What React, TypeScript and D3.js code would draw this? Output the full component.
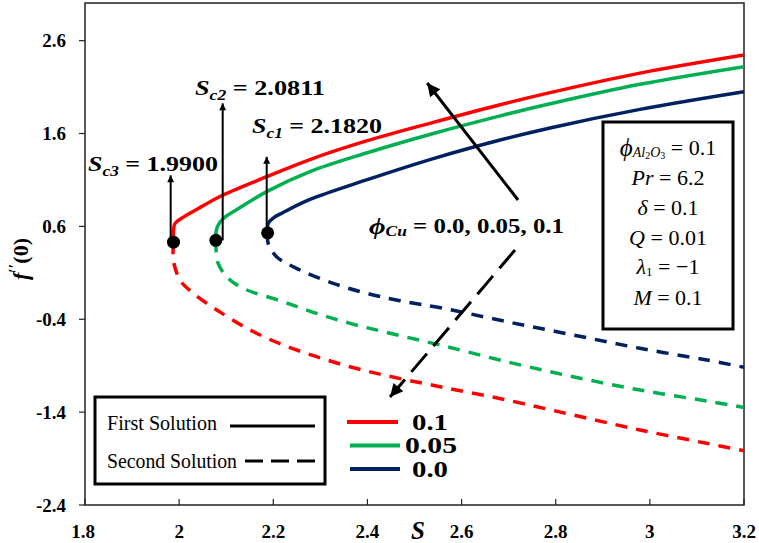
import React from "react";
import * as d3 from "d3";

// ---- data ----
const X_TICKS = [1.8, 2, 2.2, 2.4, 2.6, 2.8, 3, 3.2];
const X_TICK_LABELS = ["1.8", "2", "2.2", "2.4", "2.6", "2.8", "3", "3.2"];
const Y_TICKS = [2.6, 1.6, 0.6, -0.4, -1.4, -2.4];
const Y_TICK_LABELS = ["2.6", "1.6", "0.6", "-0.4", "-1.4", "-2.4"];

// phi_Cu = 0.1 (red)
const S_RED_FIRST = [1.988, 1.988, 1.991, 2.006, 2.04, 2.092, 2.186, 2.278, 2.398, 2.54, 2.682, 2.788, 2.979, 3.2];
const F_RED_FIRST = [0.43, 0.56, 0.63, 0.69, 0.79, 0.935, 1.135, 1.32, 1.52, 1.72, 1.91, 2.04, 2.25, 2.445];
const S_RED_SECOND = [1.988, 1.987, 1.989, 2.002, 2.03, 2.08, 2.151, 2.221, 2.292, 2.363, 2.434, 2.554, 2.696, 2.837, 2.979, 3.121, 3.2];
const F_RED_SECOND = [0.43, 0.3, 0.2, 0.02, -0.12, -0.3, -0.516, -0.677, -0.803, -0.911, -1.0, -1.126, -1.269, -1.431, -1.592, -1.736, -1.815];

// phi_Cu = 0.05 (green)
const S_GREEN_FIRST = [2.078, 2.079, 2.086, 2.1, 2.122, 2.188, 2.278, 2.398, 2.54, 2.682, 2.788, 2.979, 3.2];
const F_GREEN_FIRST = [0.45, 0.56, 0.64, 0.71, 0.78, 0.98, 1.19, 1.39, 1.6, 1.79, 1.92, 2.13, 2.32];
const S_GREEN_SECOND = [2.078, 2.079, 2.083, 2.101, 2.136, 2.221, 2.292, 2.363, 2.434, 2.554, 2.696, 2.837, 2.979, 3.121, 3.2];
const F_GREEN_SECOND = [0.45, 0.3, 0.2, 0.058, -0.067, -0.211, -0.336, -0.444, -0.534, -0.677, -0.857, -1.019, -1.162, -1.28, -1.35];

// phi_Cu = 0.0 (blue)
const S_BLUE_FIRST = [2.188, 2.189, 2.2, 2.221, 2.278, 2.398, 2.54, 2.682, 2.788, 2.979, 3.2];
const F_BLUE_FIRST = [0.53, 0.63, 0.69, 0.75, 0.89, 1.1, 1.33, 1.53, 1.66, 1.86, 2.05];
const S_BLUE_SECOND = [2.188, 2.189, 2.207, 2.257, 2.327, 2.398, 2.469, 2.561, 2.696, 2.837, 2.979, 3.121, 3.2];
const F_BLUE_SECOND = [0.53, 0.42, 0.274, 0.13, -0.013, -0.12, -0.2, -0.282, -0.426, -0.569, -0.713, -0.839, -0.917];

// critical points
const CRIT_S = [1.988, 2.078, 2.188];
const CRIT_F = [0.43, 0.45, 0.53];
const CRIT_NAMES = ["c3", "c2", "c1"];
const CRIT_VALUES = ["1.9900", "2.0811", "2.1820"];
const CRIT_ARROW_S = [1.982, 2.0925, 2.186];
const CRIT_ARROW_TOP = [1.15, 1.925, 1.35];

const LEGEND_VALUES = ["0.1", "0.05", "0.0"];
const COLORS = ["#ff0000", "#00b050", "#002060"];

const W = 759;
const H = 543;
const M = { left: 85, right: 744, top: 3, bottom: 505 };
const SERIF = "'Liberation Serif', 'Times New Roman', serif";

export default function App() {
  const x = d3.scaleLinear().domain([1.8, 3.2]).range([M.left, M.right]);
  const y = d3.scaleLinear().domain([-2.4, 3.0]).range([M.bottom, M.top + 0.5]);

  const line = d3
    .line<[number, number]>()
    .x((d) => x(d[0]))
    .y((d) => y(d[1]))
    .curve(d3.curveCatmullRom.alpha(0.5));

  const zip = (a: number[], b: number[]) => a.map((v, i) => [v, b[i]] as [number, number]);

  const series = [
    { c: COLORS[0], first: zip(S_RED_FIRST, F_RED_FIRST), second: zip(S_RED_SECOND, F_RED_SECOND) },
    { c: COLORS[1], first: zip(S_GREEN_FIRST, F_GREEN_FIRST), second: zip(S_GREEN_SECOND, F_GREEN_SECOND) },
    { c: COLORS[2], first: zip(S_BLUE_FIRST, F_BLUE_FIRST), second: zip(S_BLUE_SECOND, F_BLUE_SECOND) },
  ];

  // label anchor positions (data units)
  const critLabelPos = [
    { s: 1.8 + (153 - 85) / 470.7, f: 1.2 },
    { s: 1.8 + (260 - 85) / 470.7, f: 2.02 },
    { s: 1.8 + (317 - 85) / 470.7, f: 1.61 },
  ];

  return (
    <svg width={W} height={H} style={{ position: "absolute", left: 0, top: 0, background: "#fff" }} fontFamily={SERIF}>
      <defs>
        <clipPath id="plotclip">
          <rect x={M.left} y={M.top} width={M.right - M.left} height={M.bottom - M.top} />
        </clipPath>
        <marker id="ahSmall" viewBox="0 0 10 10" refX={10} refY={5} markerWidth={9} markerHeight={7} markerUnits="userSpaceOnUse" orient="auto">
          <path d="M0,0 L10,5 L0,10 Z" fill="#000" />
        </marker>
        <marker id="ahBig" viewBox="0 0 10 10" refX={10} refY={5} markerWidth={16} markerHeight={13} markerUnits="userSpaceOnUse" orient="auto">
          <path d="M0,0 L10,5 L0,10 Z" fill="#000" />
        </marker>
      </defs>
      <rect x={0} y={0} width={W} height={H} fill="#fff" />

      {/* frame */}
      <rect x={M.left} y={M.top} width={M.right - M.left} height={M.bottom - M.top} fill="none" stroke="#222" strokeWidth={1.5} />

      {/* ticks */}
      {Y_TICKS.map((t, i) => (
        <g key={"yt" + i}>
          <line x1={M.left - 6} x2={M.left} y1={y(t)} y2={y(t)} stroke="#222" strokeWidth={1.2} />
          <text x={66} y={y(t)} textAnchor="end" dominantBaseline="central" fontWeight="bold" fontSize={19}>
            {Y_TICK_LABELS[i]}
          </text>
        </g>
      ))}
      {X_TICKS.map((t, i) => (
        <g key={"xt" + i}>
          <line x1={x(t)} x2={x(t)} y1={M.bottom} y2={M.bottom - 6} stroke="#222" strokeWidth={1.2} />
          <text x={x(t) - (i === 0 ? 2 : 0)} y={531} textAnchor="middle" dominantBaseline="central" fontWeight="bold" fontSize={19}>
            {X_TICK_LABELS[i]}
          </text>
        </g>
      ))}

      {/* axis titles */}
      <text transform="translate(20,259) rotate(-90)" textAnchor="middle" dominantBaseline="central" fontWeight="bold" fontSize={22}>
        <tspan fontStyle="italic">f</tspan>
        <tspan fontSize={16} dy={-6}>′′</tspan>
        <tspan dy={6}>(0)</tspan>
      </text>
      <text x={418} y={530} textAnchor="middle" dominantBaseline="central" fontWeight="bold" fontStyle="italic" fontSize={25}>
        S
      </text>

      {/* curves */}
      <g clipPath="url(#plotclip)">
        {series.map((s, i) => (
          <g key={"s" + i}>
            <path d={line(s.second) || ""} fill="none" stroke={s.c} strokeWidth={3.5} strokeDasharray="12,9" />
            <path d={line(s.first) || ""} fill="none" stroke={s.c} strokeWidth={3.5} />
          </g>
        ))}
      </g>

      {/* critical point arrows, dots and labels */}
      {CRIT_S.map((s, i) => (
        <g key={"cp" + i}>
          <line
            x1={x(CRIT_ARROW_S[i])}
            x2={x(CRIT_ARROW_S[i])}
            y1={y(CRIT_F[i])}
            y2={y(CRIT_ARROW_TOP[i])}
            stroke="#000"
            strokeWidth={2}
            markerEnd="url(#ahSmall)"
          />
          <circle cx={x(s)} cy={y(CRIT_F[i])} r={6.5} fill="#000" />
          <text
            x={x(critLabelPos[i].s)}
            y={y(critLabelPos[i].f)}
            textAnchor="middle"
            fontWeight="bold"
            fontSize={21}
            textLength={130}
            lengthAdjust="spacingAndGlyphs"
          >
            <tspan fontStyle="italic">S</tspan>
            <tspan fontStyle="italic" fontSize={14} dy={5}>{CRIT_NAMES[i]}</tspan>
            <tspan dy={-5}>{" = " + CRIT_VALUES[i]}</tspan>
          </text>
        </g>
      ))}

      {/* phi_Cu arrows */}
      <line x1={x(2.72)} y1={y(0.884)} x2={x(2.527)} y2={y(2.144)} stroke="#000" strokeWidth={3} markerEnd="url(#ahBig)" />
      <line x1={x(2.7135)} y1={y(0.346)} x2={x(2.448)} y2={y(-1.237)} stroke="#000" strokeWidth={3} strokeDasharray="24,10" markerEnd="url(#ahBig)" />
      <text
        x={x(2.6105)}
        y={y(0.6)}
        textAnchor="middle"
        dominantBaseline="central"
        fontWeight="bold"
        fontSize={20}
        textLength={195}
        lengthAdjust="spacingAndGlyphs"
      >
        <tspan fontStyle="italic" fontSize={23}>ϕ</tspan>
        <tspan fontStyle="italic" fontSize={14} dy={5}>Cu</tspan>
        <tspan dy={-5}>{" = 0.0, 0.05, 0.1"}</tspan>
      </text>

      {/* parameter box */}
      <rect x={603} y={122} width={130} height={207} fill="#fff" stroke="#000" strokeWidth={3} />
      <g fontSize={22} textAnchor="middle">
        <text x={668} y={147} dominantBaseline="central">
          <tspan fontStyle="italic" fontSize={25}>ϕ</tspan>
          <tspan fontStyle="italic" fontSize={14} dy={5}>Al</tspan>
          <tspan fontSize={10} dy={3}>2</tspan>
          <tspan fontStyle="italic" fontSize={14} dy={-3}>O</tspan>
          <tspan fontSize={10} dy={3}>3</tspan>
          <tspan dy={-8}>{" = 0.1"}</tspan>
        </text>
        <text x={668} y={177} dominantBaseline="central">
          <tspan fontStyle="italic">Pr</tspan>
          <tspan>{" = 6.2"}</tspan>
        </text>
        <text x={668} y={207} dominantBaseline="central">
          <tspan fontStyle="italic">δ</tspan>
          <tspan>{" = 0.1"}</tspan>
        </text>
        <text x={668} y={237} dominantBaseline="central">
          <tspan fontStyle="italic">Q</tspan>
          <tspan>{" = 0.01"}</tspan>
        </text>
        <text x={668} y={266} dominantBaseline="central">
          <tspan fontStyle="italic">λ</tspan>
          <tspan fontSize={13} dy={5}>1</tspan>
          <tspan dy={-5}>{" = −1"}</tspan>
        </text>
        <text x={668} y={297} dominantBaseline="central">
          <tspan fontStyle="italic">M</tspan>
          <tspan>{" = 0.1"}</tspan>
        </text>
      </g>

      {/* solution-type legend */}
      <rect x={95} y={397} width={230} height={87} fill="#fff" stroke="#000" strokeWidth={3} />
      <text x={107} y={430} fontSize={22} textLength={110} lengthAdjust="spacingAndGlyphs">First Solution</text>
      <line x1={230} x2={315} y1={426} y2={426} stroke="#000" strokeWidth={3} />
      <text x={107} y={468} fontSize={22} textLength={130} lengthAdjust="spacingAndGlyphs">Second Solution</text>
      <line x1={245} x2={315} y1={461} y2={461} stroke="#000" strokeWidth={3} strokeDasharray="18,8" />

      {/* colour legend */}
      {LEGEND_VALUES.map((v, i) => (
        <g key={"lg" + i}>
          <line x1={i === 0 ? 347 : 350} x2={i === 0 ? 398 : 400} y1={422 + i * 23.5} y2={422 + i * 23.5} stroke={COLORS[i]} strokeWidth={4} />
          <text
            x={i === 1 ? 405 : 412}
            y={422 + i * 23.5}
            dominantBaseline="central"
            fontWeight="bold"
            fontSize={23}
            textLength={i === 1 ? 52 : 36}
            lengthAdjust="spacingAndGlyphs"
          >
            {v}
          </text>
        </g>
      ))}
    </svg>
  );
}
